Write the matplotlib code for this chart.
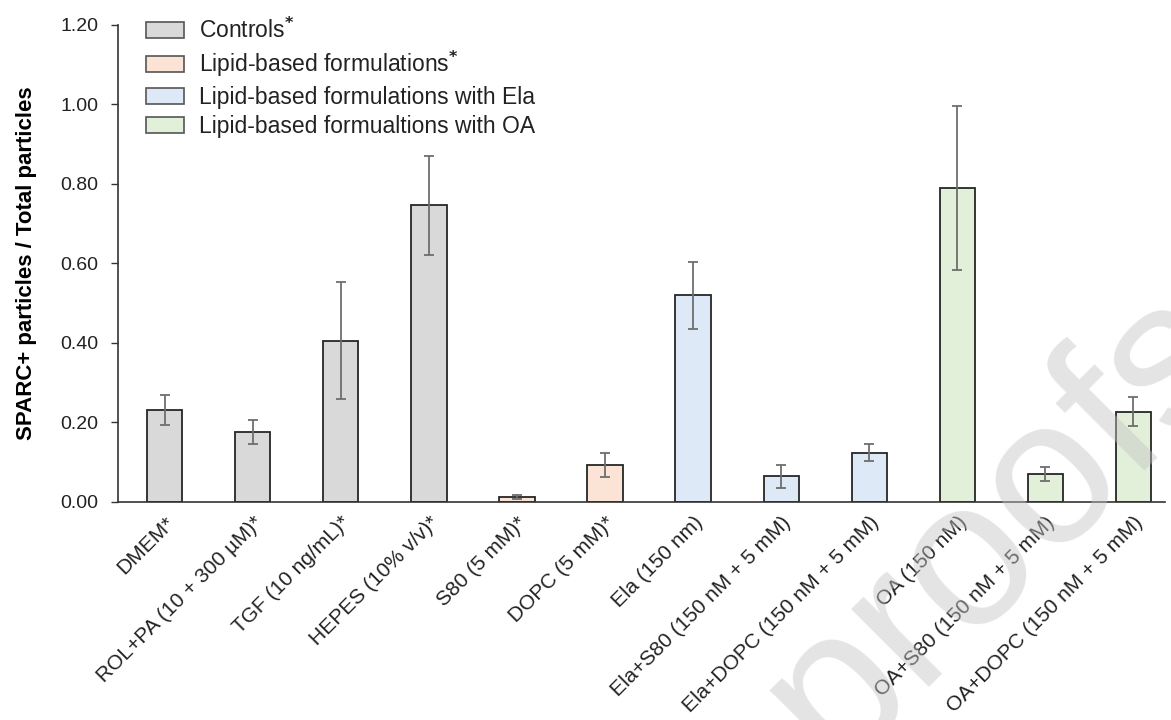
import matplotlib
matplotlib.use("Agg")
import matplotlib.pyplot as plt
from matplotlib.patches import Patch
import numpy as np

plt.rcParams['font.family'] = ['Liberation Sans', 'DejaVu Sans']

categories = ["DMEM*", "ROL+PA (10 + 300 µM)*", "TGF (10 ng/mL)*", "HEPES (10% v/v)*",
              "S80 (5 mM)*", "DOPC (5 mM)*", "Ela (150 nm)", "Ela+S80 (150 nM + 5 mM)",
              "Ela+DOPC (150 nM + 5 mM)", "OA (150 nM)", "OA+S80 (150 nM + 5 mM)",
              "OA+DOPC (150 nM + 5 mM)"]
values = [0.231, 0.175, 0.406, 0.746, 0.0125, 0.094, 0.52, 0.065, 0.124, 0.789, 0.070, 0.227]
errors = [0.038, 0.030, 0.147, 0.124, 0.006, 0.030, 0.084, 0.029, 0.022, 0.206, 0.018, 0.037]
groups = [0, 0, 0, 0, 1, 1, 2, 2, 2, 3, 3, 3]
group_labels = ["Controls$^{\\mathbf{*}}$", "Lipid-based formulations$^{\\mathbf{*}}$",
                "Lipid-based formulations with Ela", "Lipid-based formualtions with OA"]
group_colors = ["#d9d9d9", "#fbe4d5", "#dde9f6", "#e2efd9"]
yticks = [0.0, 0.2, 0.4, 0.6, 0.8, 1.0, 1.2]

fig = plt.figure(figsize=(11.71, 7.2), dpi=100)
ax = fig.add_axes([0.1008, 0.3028, 0.8942, 0.6625])

x = np.arange(len(categories))
ax.bar(x, values, width=0.4, color=[group_colors[g] for g in groups],
       edgecolor="#262626", linewidth=1.3, zorder=2)
ax.errorbar(x, values, yerr=errors, fmt="none", ecolor="#6e6e6e", elinewidth=1.3,
            capsize=3.5, capthick=1.3, zorder=3)

ax.set_xlim(-0.53, 11.36)
ax.set_ylim(0, 1.2)
ax.set_yticks(yticks)
ax.set_yticklabels([f"{t:.2f}" for t in yticks], fontsize=14, color="#222222")
ax.set_xticks(x)
ax.set_xticklabels(categories, rotation=45, ha="right", rotation_mode="anchor",
                   fontsize=15, color="#222222")
ax.tick_params(axis="x", length=0, pad=8)
ax.tick_params(axis="y", length=5, width=1, color="#333333", direction="out", pad=9)
for s in ["top", "right"]:
    ax.spines[s].set_visible(False)
ax.spines["left"].set_color("#333333")
ax.spines["bottom"].set_color("#333333")
ax.spines["left"].set_linewidth(1.2)
ax.spines["bottom"].set_linewidth(1.2)
ax.set_ylabel("SPARC+ particles / Total particles", fontsize=16, fontweight="bold",
              labelpad=17)

handles = [Patch(facecolor=c, edgecolor="#555555", linewidth=1.2) for c in group_colors]
leg = ax.legend(handles, group_labels, loc="upper left", bbox_to_anchor=(0.018, 1.035),
                frameon=False, fontsize=16.5, handlelength=1.65, handleheight=0.7,
                labelspacing=0.28, handletextpad=0.65, borderaxespad=0.0)
for t in leg.get_texts():
    t.set_color("#222222")

fig.text(0.855, 0.27, "proofs", fontsize=150, rotation=45, color="#c4c4c4", alpha=0.45,
         ha="center", va="center", family="Liberation Sans", zorder=10)

fig.savefig("out.png", dpi=100)
